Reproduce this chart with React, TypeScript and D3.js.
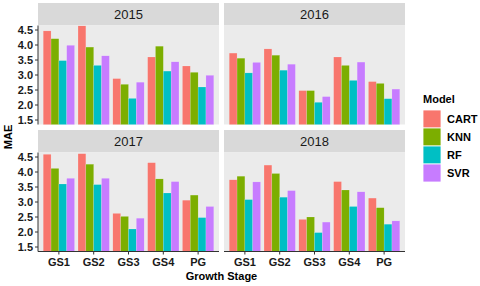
import React from 'react';
import * as d3 from 'd3';

const years = ['2015', '2016', '2017', '2018'];
const stages = ['GS1', 'GS2', 'GS3', 'GS4', 'PG'];
const models = ['CART', 'KNN', 'RF', 'SVR'];
const colors = ['#F8766D', '#7CAE00', '#00BFC4', '#C77CFF'];
const yTicks = [1.5, 2.0, 2.5, 3.0, 3.5, 4.0, 4.5];

// MAE per stage, one row per year, columns = CART, KNN, RF, SVR
const mae2015 = [
  [4.47, 4.21, 3.48, 3.99],
  [4.64, 3.93, 3.32, 3.64],
  [2.88, 2.69, 2.22, 2.76],
  [3.6, 3.96, 3.13, 3.44],
  [3.3, 3.09, 2.6, 2.99],
];
const mae2016 = [
  [3.73, 3.56, 3.07, 3.42],
  [3.87, 3.66, 3.16, 3.36],
  [2.48, 2.48, 2.09, 2.28],
  [3.6, 3.32, 2.82, 3.43],
  [2.78, 2.72, 2.21, 2.53],
];
const mae2017 = [
  [4.59, 4.12, 3.6, 3.79],
  [4.61, 4.26, 3.58, 3.79],
  [2.62, 2.52, 2.1, 2.46],
  [4.31, 3.77, 3.3, 3.68],
  [3.06, 3.23, 2.48, 2.85],
];
const mae2018 = [
  [3.74, 3.86, 3.08, 3.67],
  [4.23, 3.95, 3.16, 3.38],
  [2.42, 2.5, 1.98, 2.33],
  [3.68, 3.4, 2.85, 3.34],
  [3.13, 2.81, 2.26, 2.37],
];
const maeByYear = [mae2015, mae2016, mae2017, mae2018];

const font = 'Liberation Sans, Arial, sans-serif';

const panelX = [38, 224];
const panelW = 181;
const stripTop = [3, 130];
const stripH = 22.5;
const panelH = 99;

const App: React.FC = () => {
  const x = d3.scaleBand<string>().domain(stages).range([0, panelW]).paddingInner(0.1).paddingOuter(0.15);
  const xm = d3.scaleBand<string>().domain(models).range([0, x.bandwidth()]);
  const y = d3.scaleLinear().domain([1.35, 4.65]).range([panelH, 0]);

  return (
    <svg width={480} height={286} style={{ position: 'absolute', left: 0, top: 0, background: '#fff' }}>
      <defs>
        <clipPath id="pclip">
          <rect x={0} y={0} width={panelW} height={panelH} />
        </clipPath>
      </defs>
      {years.map((yr, i) => {
        const col = i % 2;
        const row = Math.floor(i / 2);
        const px = panelX[col];
        const sy = stripTop[row];
        const py = sy + stripH;
        const data = maeByYear[i];
        return (
          <g key={yr}>
            <rect x={px} y={sy} width={panelW} height={stripH} fill="#D9D9D9" />
            <text x={px + panelW / 2} y={sy + stripH / 2 + 4.8} textAnchor="middle" fontFamily={font} fontSize={13} fill="#1A1A1A">
              {yr}
            </text>
            <g transform={`translate(${px},${py})`}>
              <rect width={panelW} height={panelH} fill="#EBEBEB" />
              <g clipPath="url(#pclip)">
                {stages.map((s, si) =>
                  models.map((m, mi) => {
                    const v = data[si][mi];
                    return (
                      <rect
                        key={s + m}
                        x={(x(s) ?? 0) + (xm(m) ?? 0)}
                        y={y(v)}
                        width={xm.bandwidth()}
                        height={panelH - y(v) + 2}
                        fill={colors[mi]}
                        stroke="#ffffff"
                        strokeOpacity={0.35}
                        strokeWidth={0.4}
                      />
                    );
                  })
                )}
              </g>
              {col === 0 && (
                <g>
                  <line x1={0} x2={0} y1={0} y2={panelH} stroke="#333" strokeWidth={1} />
                  {yTicks.map((t) => (
                    <g key={t} transform={`translate(0,${y(t)})`}>
                      <line x1={-3} x2={0} stroke="#333" />
                      <text x={-5} dy="0.35em" textAnchor="end" fontFamily={font} fontWeight="bold" fontSize={11} fill="#1A1A1A">
                        {t.toFixed(1)}
                      </text>
                    </g>
                  ))}
                </g>
              )}
              {row === 1 && (
                <g>
                  <line x1={0} x2={panelW} y1={panelH} y2={panelH} stroke="#333" strokeWidth={1} />
                  {stages.map((s) => (
                    <g key={s} transform={`translate(${(x(s) ?? 0) + x.bandwidth() / 2},${panelH})`}>
                      <line y1={0} y2={3} stroke="#333" />
                      <text y={14} textAnchor="middle" fontFamily={font} fontWeight="bold" fontSize={11} fill="#1A1A1A">
                        {s}
                      </text>
                    </g>
                  ))}
                </g>
              )}
            </g>
          </g>
        );
      })}
      <text x={221.5} y={280} textAnchor="middle" fontFamily={font} fontWeight="bold" fontSize={11} fill="#000">
        Growth Stage
      </text>
      <text transform="translate(12,137) rotate(-90)" textAnchor="middle" fontFamily={font} fontWeight="bold" fontSize={11} fill="#000">
        MAE
      </text>
      <text x={423} y={103} fontFamily={font} fontWeight="bold" fontSize={11} fill="#000">
        Model
      </text>
      {models.map((m, mi) => (
        <g key={m} transform={`translate(423,${110 + mi * 18})`}>
          <rect width={18} height={18} fill={colors[mi]} stroke="#fff" strokeWidth={0.8} />
          <text x={24} y={13} fontFamily={font} fontWeight="bold" fontSize={11} fill="#000">
            {m}
          </text>
        </g>
      ))}
    </svg>
  );
};

export default App;
